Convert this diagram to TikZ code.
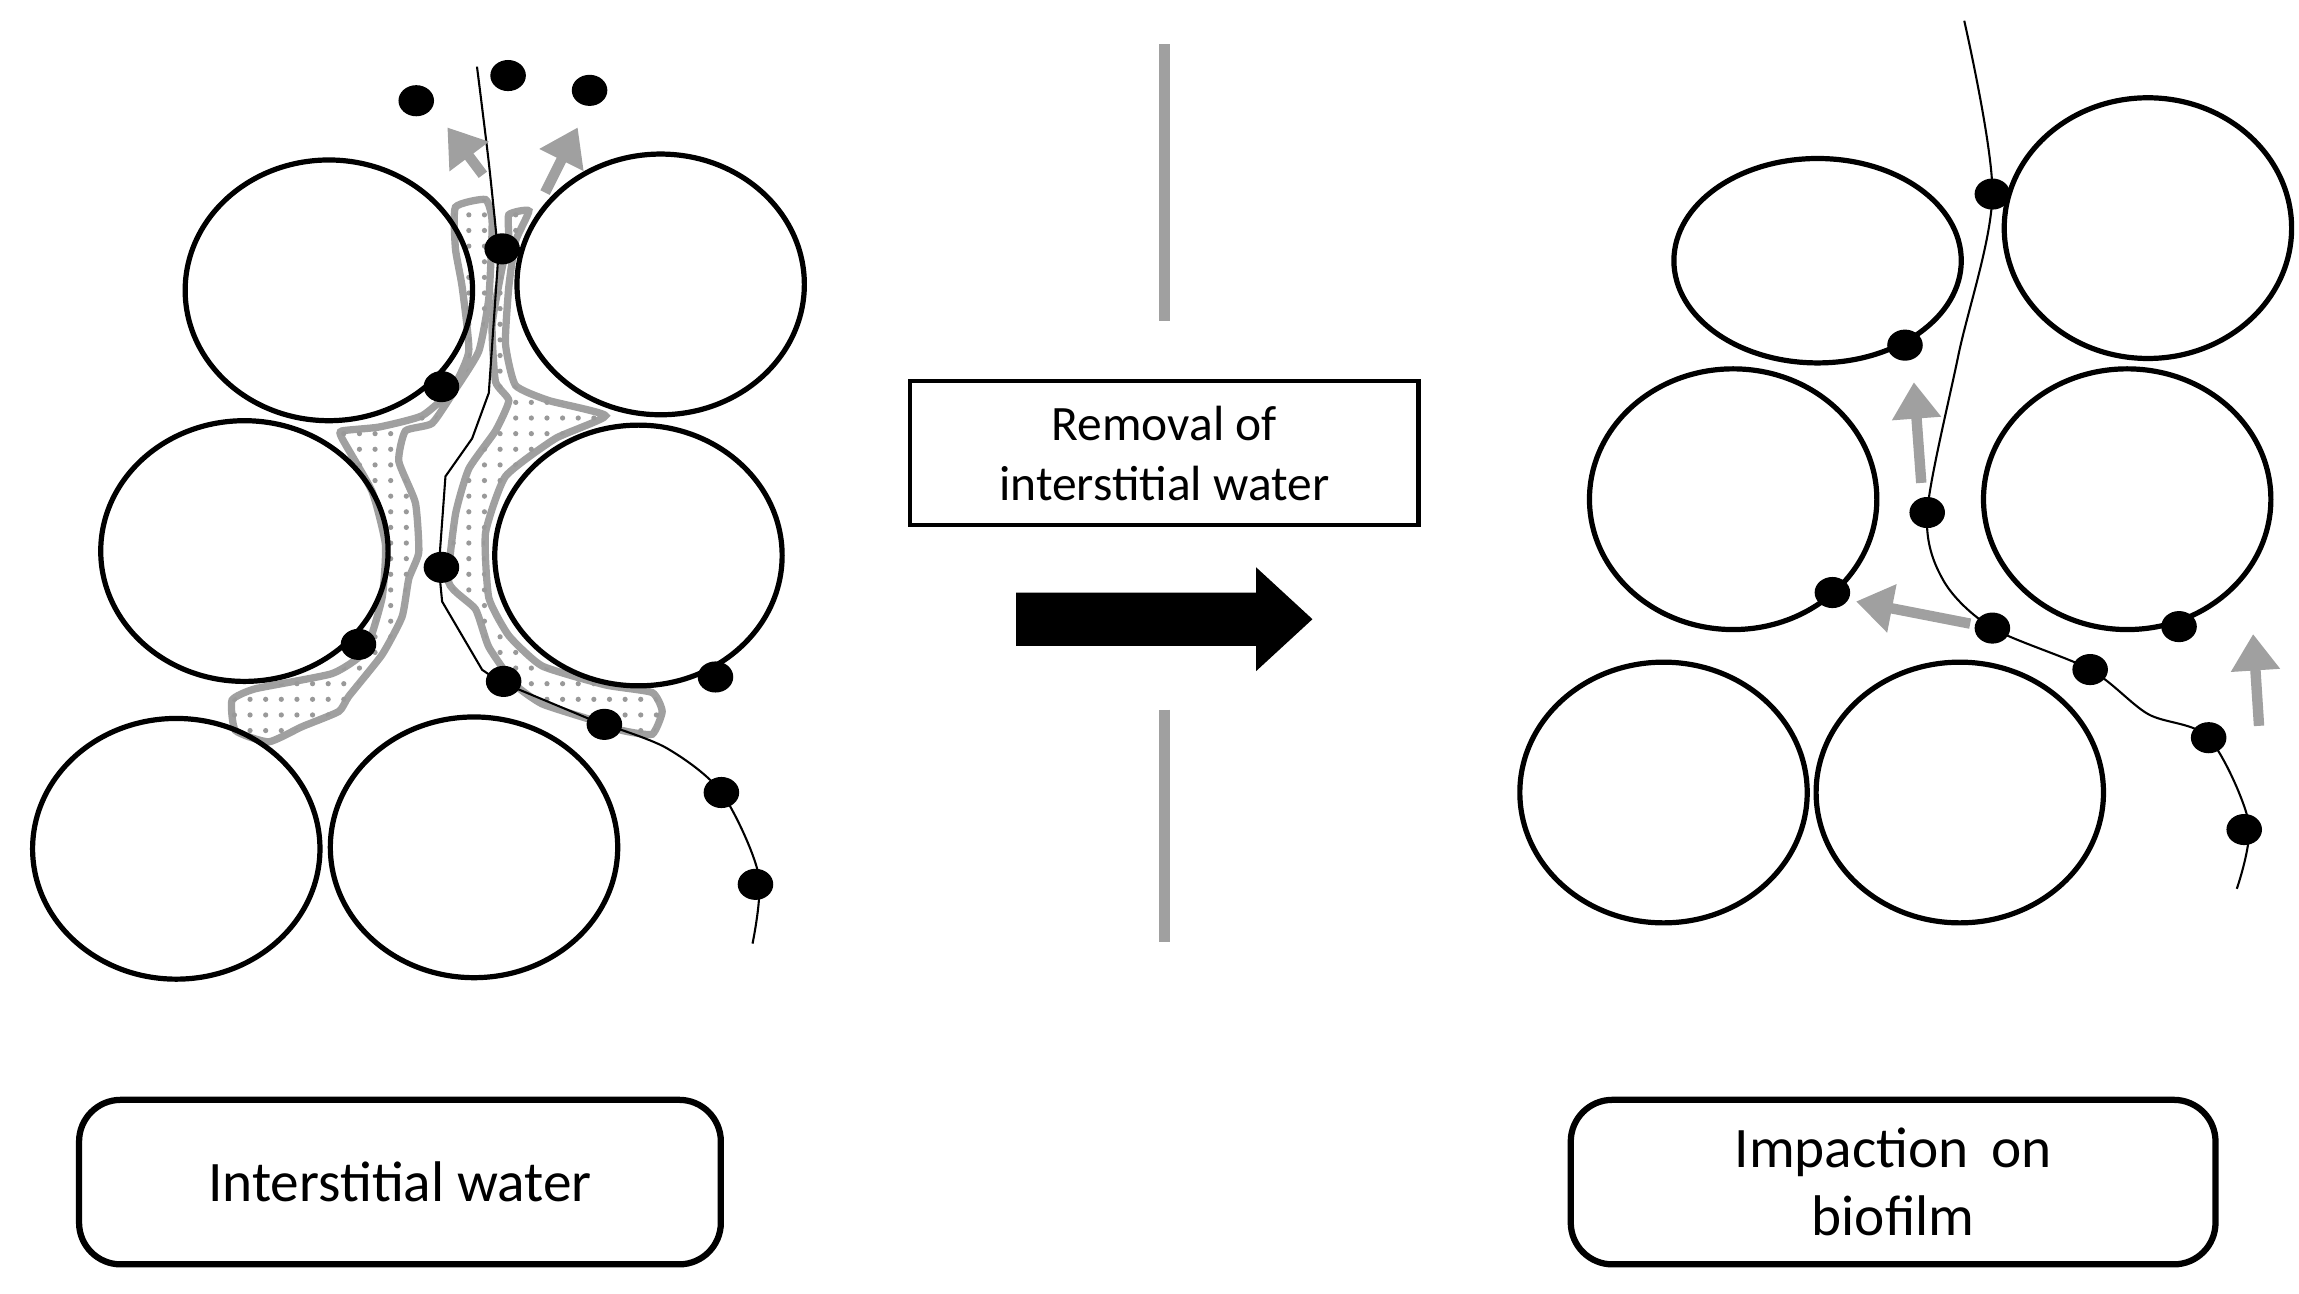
\documentclass[tikz,border=0pt]{standalone}
\usepackage{fontspec}
\setmainfont{Carlito}
\usetikzlibrary{arrows.meta,patterns}
\definecolor{WaterCol}{RGB}{160,160,160}
\tikzset{
  grain/.style={draw=black,line width=1pt},
  cell/.style={fill=black},
  film/.style={draw=WaterCol,line width=1.4pt,fill=white,postaction={pattern=dots,pattern color=gray!80}},
  flow/.style={draw=WaterCol,line width=2pt,-{Triangle[length=7pt,width=9pt]}},
  lbl/.style={draw=black,line width=1.2pt,rounded corners=8pt,align=center,font=\fontsize{11}{13}\selectfont}
}
\begin{document}
\begin{tikzpicture}[x=0.01cm,y=-0.01cm]
  \useasboundingbox (0,0) rectangle (1552,873);

  % water film
  \begin{scope}[shift={(149.9,116.8)},xscale=0.2251,yscale=0.256]
    \draw[film] plot[smooth cycle,tension=0.3] coordinates {
      (700,90) (790,70) (810,130) (800,330) (770,470) (700,570) (630,660) (550,680) (530,760) (580,870) (590,1000)
      (560,1070) (540,1170) (480,1270) (380,1380) (350,1420) (240,1460) (140,1500) (40,1470) (30,1390) (100,1360)
      (330,1320) (430,1260) (480,1120) (490,980) (450,840) (360,700) (360,680) (470,670) (600,640) (690,570)
      (740,470) (720,300) (700,200)};
    \draw[film] plot[smooth cycle,tension=0.3] coordinates {
      (860,110) (920,100) (880,180) (860,300) (850,450) (880,560) (980,600) (1150,640) (1000,700) (850,800) (790,950)
      (800,1120) (860,1220) (960,1300) (1150,1350) (1290,1370) (1320,1420) (1290,1480) (1200,1470) (1100,1440)
      (960,1400) (880,1350) (800,1250) (760,1150) (680,1080) (700,900) (740,780) (820,680) (860,600) (820,550)
      (810,400) (840,250) (860,180)};
    \draw[thin] (830,200) -- (800,580) -- (750,700) -- (670,800) -- (650,1040) -- (660,1130) -- (780,1310) -- (830,1340) -- (1130,1450);
  \end{scope}

  % left grains
  \foreach \x/\y in {222/196,446/192,165/372,431/375,119/573,320/572}
    \draw[grain] (\x,\y) ellipse (97 and 88);

  % right grains
  \draw[grain] (1227,176) ellipse (97 and 69);
  \foreach \x/\y in {1450/154,1170/337,1436/337,1123/535,1323/535}
    \draw[grain] (\x,\y) ellipse (97 and 88);

  % filaments
  \draw[thin] plot[smooth] coordinates {(322,45) (330,110) (336,168)};
  \draw[thin] plot[smooth] coordinates {(408,489) (450,505) (487,535) (512,590) (508,637)};
  \draw[thin] plot[smooth] coordinates {(1326,14) (1345,131) (1322,240) (1301,346) (1312,392) (1345,424) (1411,452) (1450,482) (1491,498) (1518,555) (1510,600)};

  % cells
  \foreach \x/\y in {281/68,343/51,398/61,339/168,298/261,298/383,242/435,340/460,483/457,408/489,487/535,510/597,
                     1345/131,1286/233,1301/346,1237/400,1345/424,1411/452,1471/423,1491/498,1515/560}
    \fill[cell] (\x,\y) ellipse (12 and 10.5);

  % movements
  \draw[flow] (326,118) -- (302,86);
  \draw[flow] (368,130) -- (390,86);
  \draw[flow] (1297,326) -- (1292,258);
  \draw[flow] (1330,421) -- (1253,406);
  \draw[flow] (1525,490) -- (1521,428);

  % separator
  \draw[WaterCol,line width=2pt] (786,30) -- (786,217);
  \draw[WaterCol,line width=2pt] (786,479) -- (786,636);
  \node[draw=black,line width=0.8pt,minimum width=3.43cm,minimum height=0.97cm,align=center,
        font=\fontsize{9.5}{11.5}\selectfont] (removal) at (786,306) {Removal of\\interstitial water};
  \fill (686,400) -- (848,400) -- (848,383) -- (886,418) -- (848,453) -- (848,436) -- (686,436) -- cycle;

  % captions
  \node[lbl,minimum width=4.33cm,minimum height=1.11cm] (before) at (270,798) {Interstitial water};
  \node[lbl,minimum width=4.35cm,minimum height=1.11cm] (after) at (1278,798) {Impaction\, on\\biofilm};
\end{tikzpicture}
\end{document}
